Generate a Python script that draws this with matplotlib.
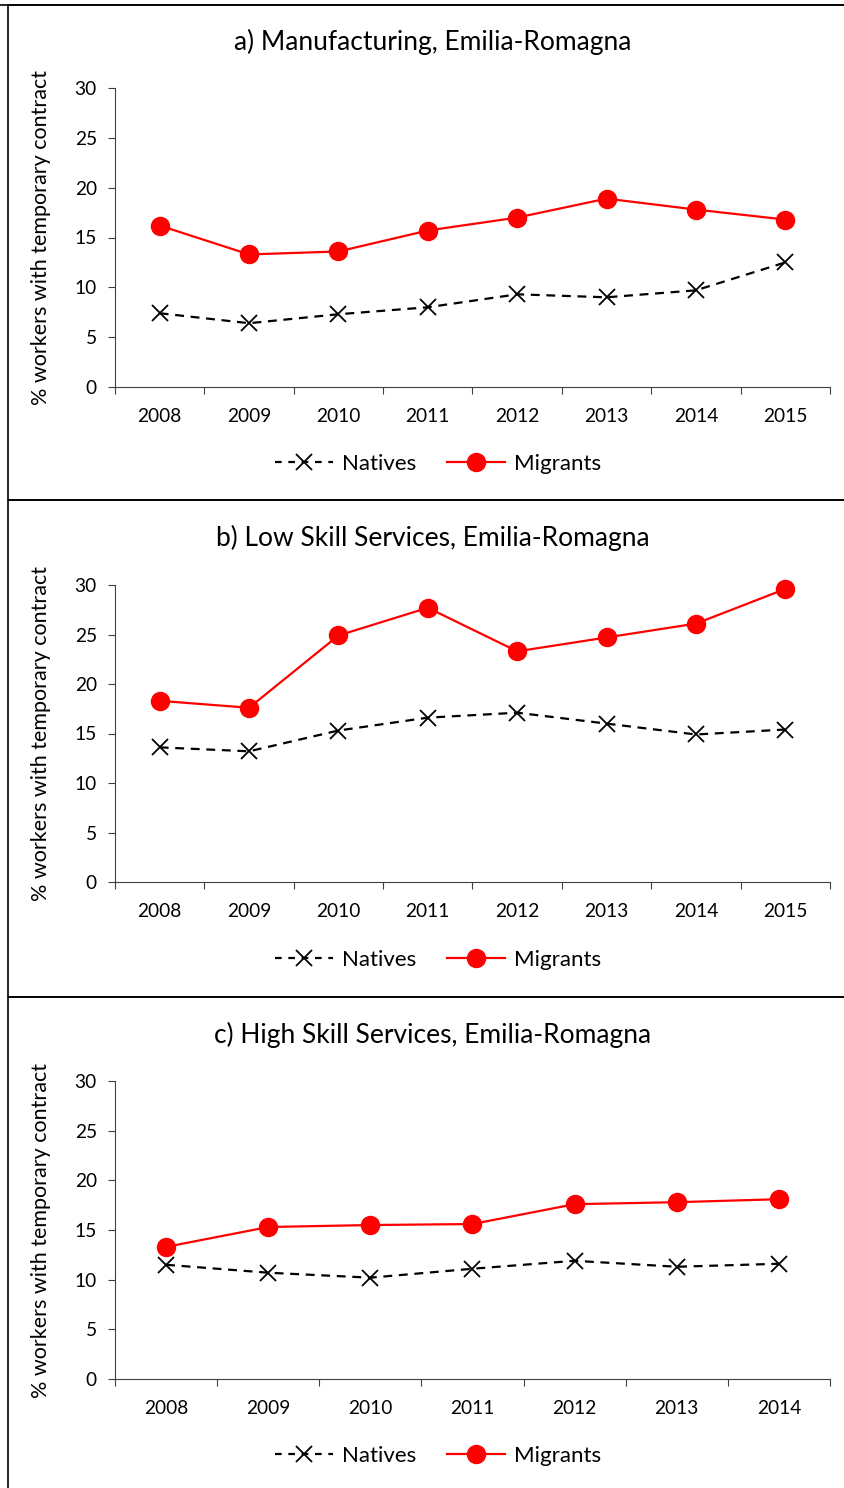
import matplotlib.pyplot as plt
from matplotlib.lines import Line2D
from matplotlib.patches import Rectangle
import numpy as np

plt.rcParams['font.family'] = ['Lato', 'DejaVu Sans']

# Panel a) Manufacturing
years_a = ['2008', '2009', '2010', '2011', '2012', '2013', '2014', '2015']
natives_a = [7.4, 6.4, 7.3, 8.0, 9.3, 9.0, 9.7, 12.5]
migrants_a = [16.2, 13.3, 13.6, 15.7, 17.0, 18.9, 17.8, 16.8]

# Panel b) Low skill services
years_b = ['2008', '2009', '2010', '2011', '2012', '2013', '2014', '2015']
natives_b = [13.6, 13.2, 15.3, 16.6, 17.1, 16.0, 14.9, 15.4]
migrants_b = [18.3, 17.6, 24.9, 27.7, 23.3, 24.7, 26.1, 29.6]

# Panel c) High skill services
years_c = ['2008', '2009', '2010', '2011', '2012', '2013', '2014']
natives_c = [11.5, 10.7, 10.2, 11.1, 11.9, 11.3, 11.6]
migrants_c = [13.3, 15.3, 15.5, 15.6, 17.6, 17.8, 18.1]

titles = ['a) Manufacturing, Emilia-Romagna',
          'b) Low Skill Services, Emilia-Romagna',
          'c) High Skill Services, Emilia-Romagna']

panels = [(years_a, natives_a, migrants_a),
          (years_b, natives_b, migrants_b),
          (years_c, natives_c, migrants_c)]

W, H = 845, 1488
fig = plt.figure(figsize=(W / 100, H / 100), dpi=100)

def fy(px):
    return 1 - px / H

# panel boxes (top, bottom) in pixels
boxes = [(5, 500), (500, 997), (997, 1490)]
axes_px = [(88, 387), (585, 882), (1081, 1379)]
title_y = [42, 538, 1035]
legend_y = [464, 960, 1456]

for (top, bot) in boxes:
    fig.patches.append(Rectangle((8 / W, fy(bot)), 1.2, (bot - top) / H,
                                 transform=fig.transFigure, fill=False,
                                 edgecolor='black', linewidth=1.2))
# caption rule above the first panel runs to the left edge
fig.add_artist(Line2D([0, 1], [fy(5), fy(5)], transform=fig.transFigure,
                      color='black', linewidth=1.2))

for i, (years, nat, mig) in enumerate(panels):
    top, bot = axes_px[i]
    ax = fig.add_axes([115 / W, fy(bot), (830 - 115) / W, (bot - top) / H])
    x = np.arange(len(years))
    ax.plot(x, nat, color='black', linestyle=(0, (4, 3)), linewidth=1.6,
            marker='x', markersize=11, markeredgewidth=1.3, label='Natives',
            clip_on=False)
    ax.plot(x, mig, color='#ff0000', linewidth=1.6,
            marker='o', markersize=13, label='Migrants', clip_on=False)
    ax.set_xlim(-0.5, len(years) - 0.5)
    ax.set_ylim(0, 30)
    ax.set_yticks(range(0, 31, 5))
    ax.set_xticks(x)
    ax.set_xticklabels(years)
    ax.set_xticks(np.arange(-0.5, len(years)), minor=True)
    ax.tick_params(axis='x', which='major', length=0, pad=15, labelsize=13.8)
    ax.tick_params(axis='x', which='minor', length=5, width=0.8, color='#404040')
    ax.tick_params(axis='y', length=5, width=0.8, color='#404040', labelsize=13.8, pad=8)
    for s in ['top', 'right']:
        ax.spines[s].set_visible(False)
    for s in ['left', 'bottom']:
        ax.spines[s].set_color('#404040')
        ax.spines[s].set_linewidth(0.8)
    ax.set_ylabel('% workers with temporary contract', fontsize=15.5)
    ax.yaxis.set_label_coords(-0.09, 0.5)

    fig.text(433 / W, fy(title_y[i]), titles[i], ha='center', va='center', fontsize=19)

    handles = [Line2D([], [], color='black', linestyle=(0, (3, 3)), linewidth=1.6,
                      marker='x', markersize=11, markeredgewidth=1.3),
               Line2D([], [], color='#ff0000', linewidth=1.6, marker='o', markersize=13)]
    fig.legend(handles, ['Natives', 'Migrants'], loc='center',
               bbox_to_anchor=(438 / W, fy(legend_y[i])), ncol=2, frameon=False,
               fontsize=16, handlelength=2.6, columnspacing=1.4, handletextpad=0.4)

fig.savefig('out.png', dpi=100)
